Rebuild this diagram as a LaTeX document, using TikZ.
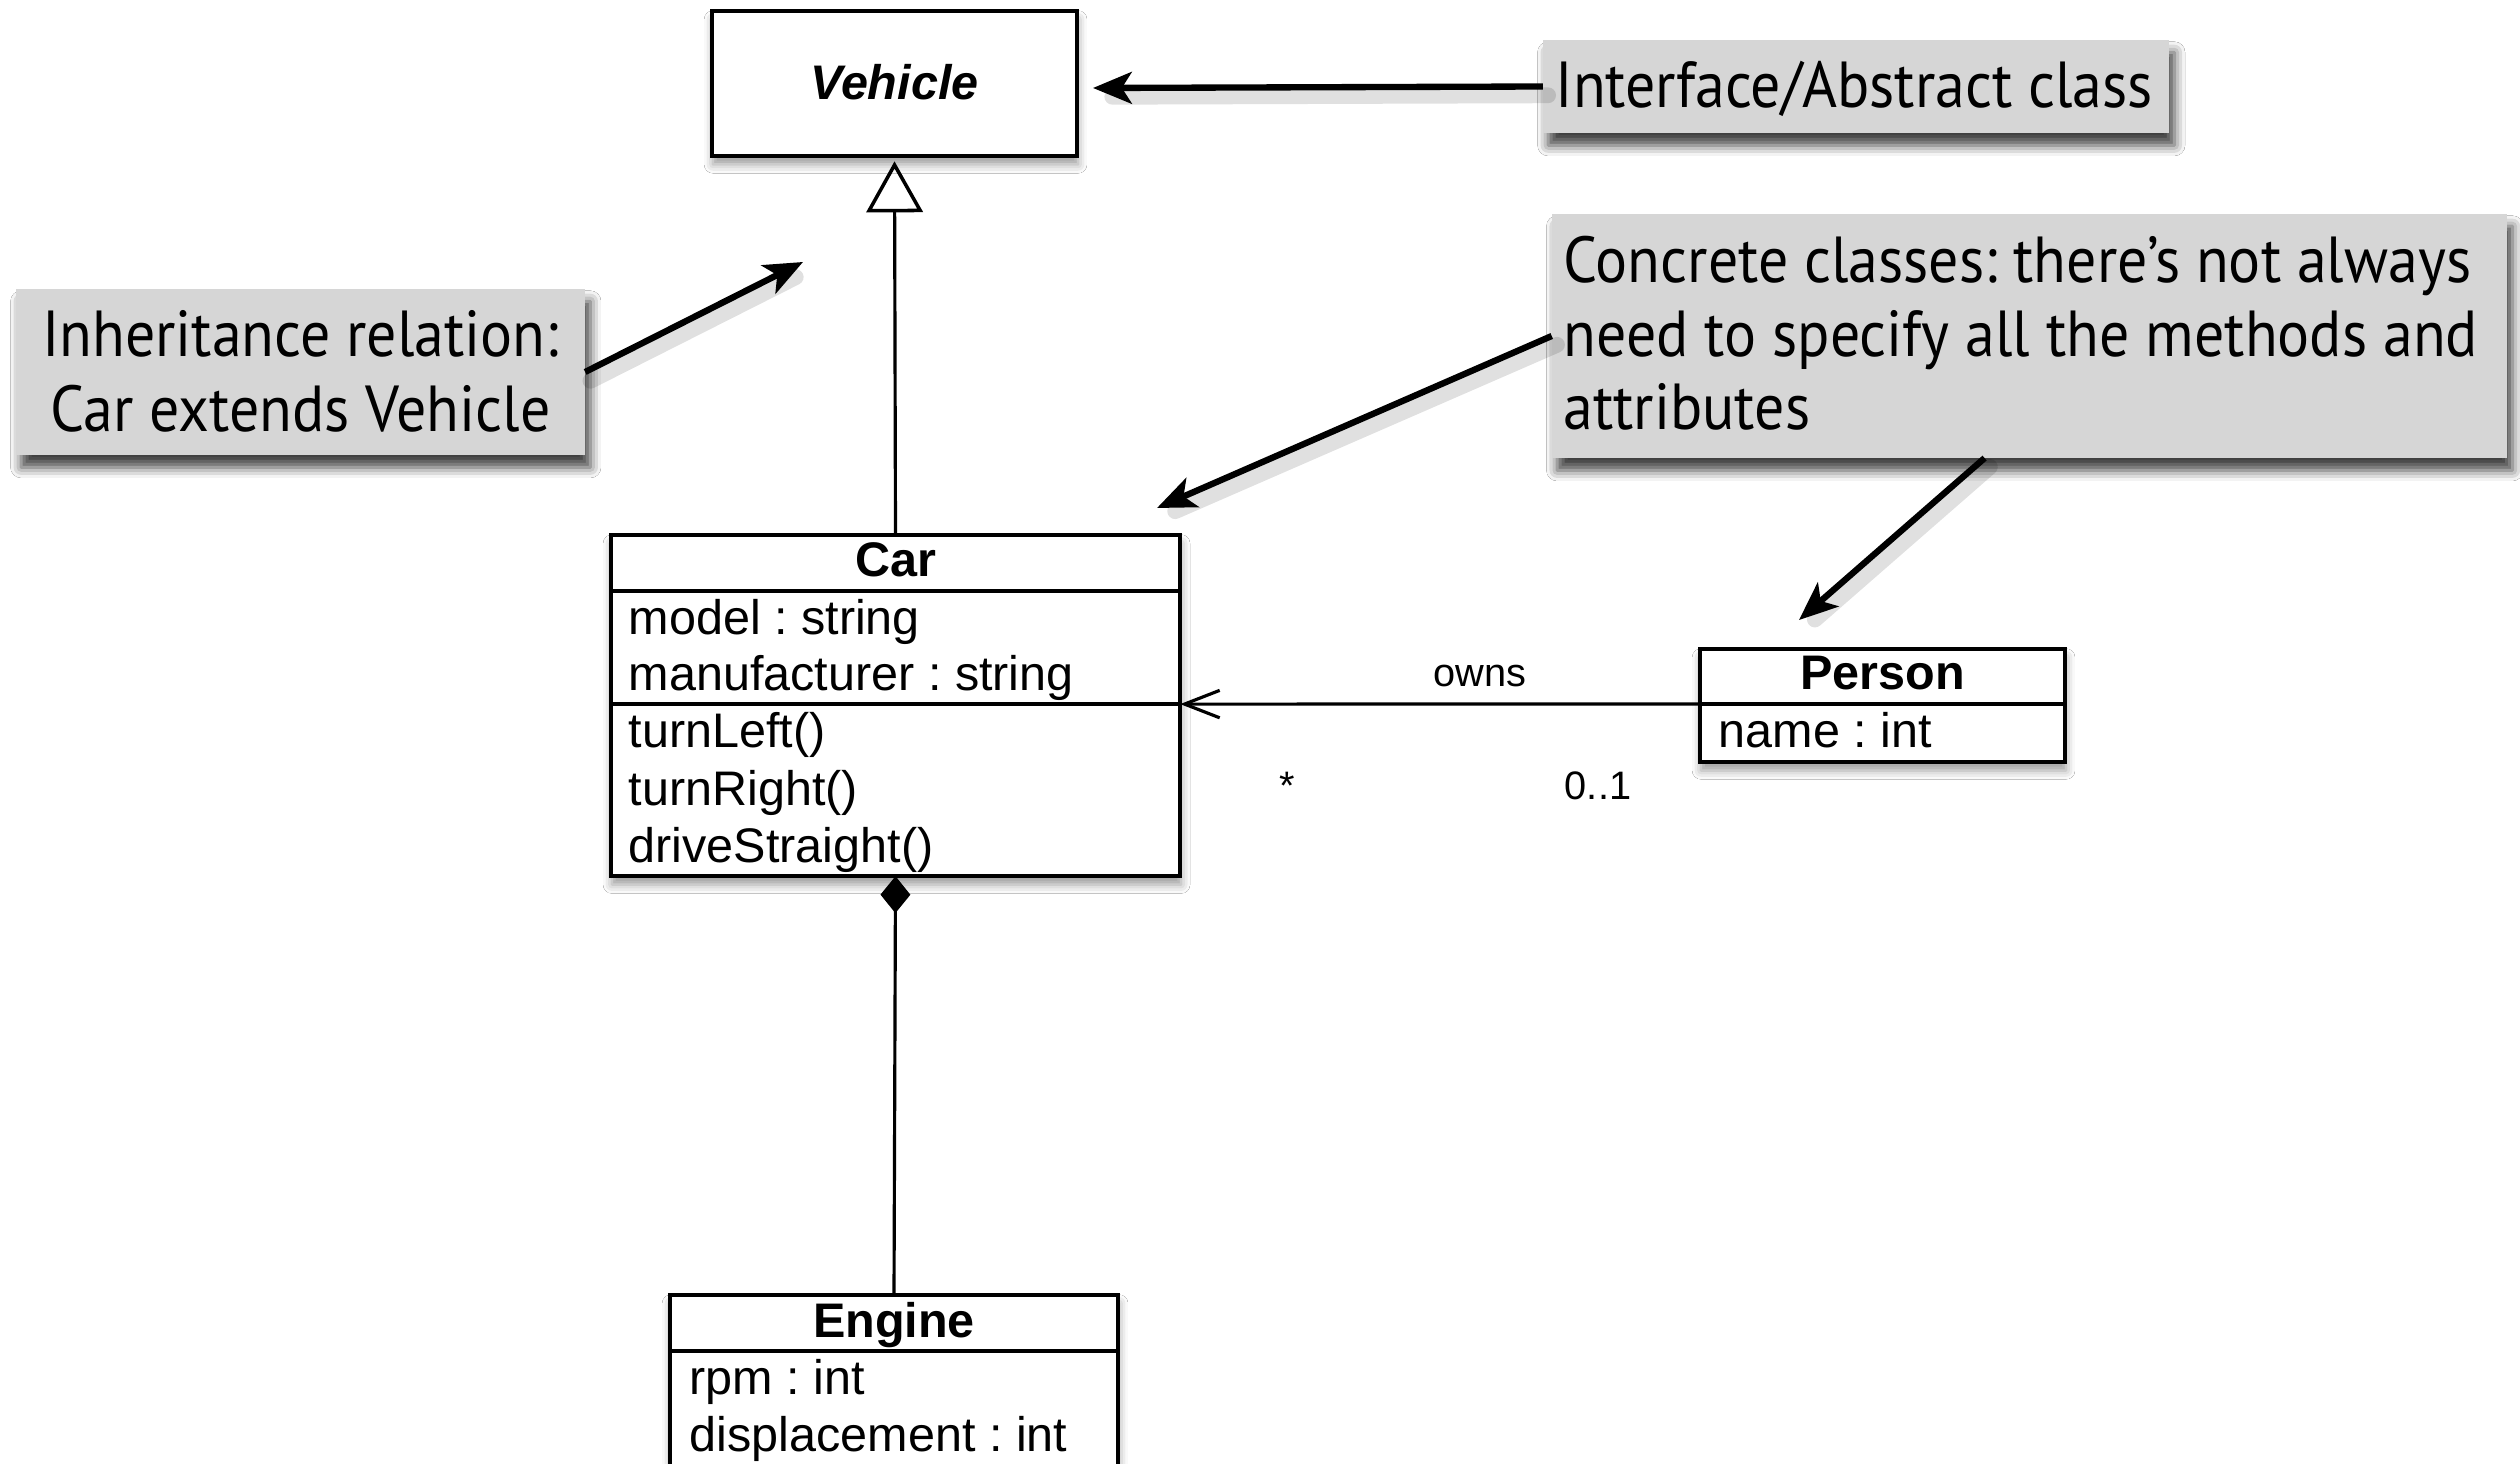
\documentclass[tikz,border=0pt]{standalone}
\usepackage{fontspec}
\setmainfont{Liberation Sans}
\newfontfamily\umlfont{Liberation Sans}
\newfontfamily\notefont[FakeStretch=0.92]{PT Sans}
\usetikzlibrary{arrows.meta,shadows.blur,calc}
\definecolor{notegray}{RGB}{214,214,214}
\frenchspacing

\begin{document}
\begin{tikzpicture}[x=0.01cm,y=-0.01cm,
  classbox/.style={draw, line width=1.05pt, fill=white, inner sep=0pt, outer sep=0pt,
    blur shadow={shadow xshift=0.3pt, shadow yshift=-2.4pt, shadow blur radius=2.5pt, shadow opacity=40}},
  comp/.style={draw, line width=1.05pt, inner sep=0pt, outer sep=0pt, anchor=north},
  member/.style={font=\umlfont\fontsize{13.8}{16}\selectfont, inner sep=0pt, anchor=base west},
  title/.style={font=\umlfont\bfseries\fontsize{13.8}{16}\selectfont, inner sep=0pt, anchor=base},
  lbl/.style={font=\umlfont\fontsize{11.3}{13}\selectfont, inner sep=0pt, anchor=base},
  note/.style={fill=notegray, inner sep=0pt, outer sep=0pt,
    blur shadow={shadow xshift=1.5pt, shadow yshift=-3.5pt, shadow blur radius=3pt, shadow opacity=75}},
  notetext/.style={font=\notefont\fontsize{18.5}{21}\selectfont, inner sep=0pt},
  umlline/.style={line width=0.9pt},
  pointer/.style={line width=1.8pt, -{Stealth[length=11pt, width=9pt, inset=2.8pt]}},
  pointershade/.style={line width=4.5pt, draw=black, opacity=0.12, line cap=round, shorten >=4pt, transform canvas={xshift=1.5pt, yshift=-2.5pt}},
  ]
\useasboundingbox (0,0) rectangle (2520,1464);
\fill[white] (0,0) rectangle (2520,1464);

% ---------- classes ----------
\node[classbox, minimum width=3.65cm, minimum height=1.45cm] (vehicle) at (894.5,83.5) {};
\node[title, font=\umlfont\bfseries\itshape\fontsize{13.8}{16}\selectfont] (vehiclename) at (894.5,100) {Vehicle};

\node[classbox, minimum width=5.69cm, minimum height=3.41cm, anchor=north] (car) at (895.5,535) {};
\node[comp, minimum width=5.69cm, minimum height=0.56cm] (carhead) at (car.north) {};
\node[comp, minimum width=5.69cm, minimum height=1.13cm] (carattr) at (carhead.south) {};
\node[comp, minimum width=5.69cm, minimum height=1.72cm] (carops) at (carattr.south) {};
\node[title] (cartitle) at (895.5,577) {Car};
\node[member] (carmodel) at (628,635) {model : string};
\node[member] (carmaker) at (628,691) {manufacturer : string};
\node[member] (carleft) at (628,748) {turnLeft()};
\node[member] (carright) at (628,805) {turnRight()};
\node[member] (carstraight) at (628,862) {driveStraight()};

\node[classbox, minimum width=3.65cm, minimum height=1.13cm, anchor=north] (person) at (1882.5,649) {};
\node[comp, minimum width=3.65cm, minimum height=0.55cm] (personhead) at (person.north) {};
\node[comp, minimum width=3.65cm, minimum height=0.58cm] (personattr) at (personhead.south) {};
\node[title] (persontitle) at (1882.5,690) {Person};
\node[member] (personname) at (1718,748) {name : int};

\node[classbox, minimum width=4.48cm, minimum height=2.05cm, anchor=north] (engine) at (894,1295) {};
\node[comp, minimum width=4.48cm, minimum height=0.56cm] (enginehead) at (engine.north) {};
\node[comp, minimum width=4.48cm, minimum height=1.49cm] (engineattr) at (enginehead.south) {};
\node[title] (enginetitle) at (894,1337) {Engine};
\node[member] (enginerpm) at (689,1394) {rpm : int};
\node[member] (enginedisp) at (689,1451) {displacement : int};

% ---------- relations ----------
\draw[umlline, -{Triangle[open, length=14.5pt, width=16pt, line width=1pt]}, shorten >=1.5pt] (carhead.north) -- (vehicle.south);
\draw[umlline, {Diamond[length=10.5pt, width=8.5pt]}-] (carops.south) -- (enginehead.north);
\draw[umlline, -{Straight Barb[length=10pt, width=7.8pt, line width=0.9pt]}] (personhead.south west) -- (carattr.south east);
\node[lbl] (ownslabel) at (1480,687) {owns};
\node[lbl] (manymult) at (1287,800) {*};
\node[lbl] (onemult) at (1598,800) {0..1};

% ---------- notes ----------
\node[note, minimum width=6.26cm, minimum height=0.93cm] (noteabs) at (1856,86.5) {};
\node[notetext, anchor=base west] (noteabstext) at (1555,108) {Interface/Abstract class};

\node[note, minimum width=5.69cm, minimum height=1.66cm] (noteinh) at (300.5,372) {};
\node[notetext, anchor=base] (noteinh1) at (300.5,357) {Inheritance relation:};
\node[notetext, anchor=base] (noteinh2) at (300.5,432) {Car extends Vehicle};

\node[note, minimum width=9.55cm, minimum height=2.44cm] (noteconc) at (2029.5,336) {};
\node[notetext, anchor=base west] (noteconc1) at (1563,283) {Concrete classes: there’s not always};
\node[notetext, anchor=base west] (noteconc2) at (1563,357) {need to specify all the methods and};
\node[notetext, anchor=base west] (noteconc3) at (1563,430) {attributes};

\coordinate (absTip) at (1093,88);
\coordinate (inhTip) at (803,262);
\coordinate (carTip) at (1157,508);
\coordinate (personTip) at (1799,620);
\coordinate (concFoot) at ($(noteconc.south west)!0.453!(noteconc.south east)$);

% soft shading under the pointers
\draw[pointershade] (noteabs.west) -- (absTip);
\draw[pointershade] (noteinh.east) -- (inhTip);
\draw[pointershade] (noteconc.west) -- (carTip);
\draw[pointershade] (concFoot) -- (personTip);

\draw[pointer] (noteabs.west) -- (absTip);
\draw[pointer] (noteinh.east) -- (inhTip);
\draw[pointer] (noteconc.west) -- (carTip);
\draw[pointer] (concFoot) -- (personTip);
\end{tikzpicture}
\end{document}
